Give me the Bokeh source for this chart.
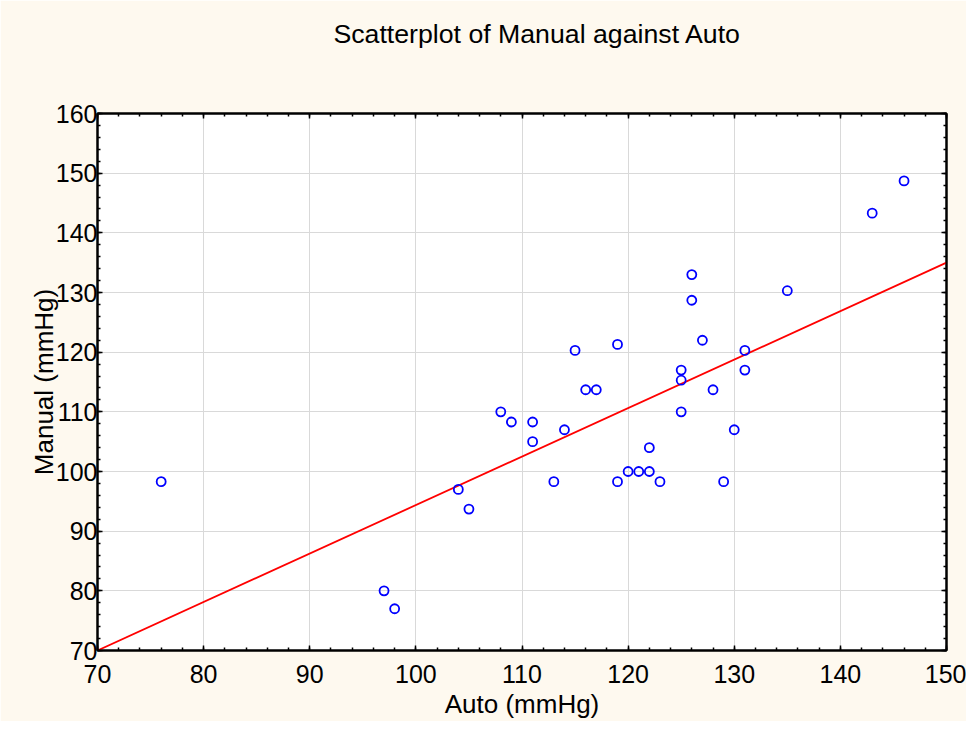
from bokeh.plotting import figure
from bokeh.models import (Range1d, LinearAxis, SingleIntervalTicker, FixedTicker,
                          CustomJSTickFormatter, ColumnDataSource)
from bokeh.embed import file_html
from bokeh.resources import INLINE

# ---- data ----
auto = [76, 97, 98, 104, 105, 108, 109, 111, 111, 113, 114, 115, 116, 117,
        119, 119, 120, 121, 122, 122, 123, 125, 125, 125, 126, 126, 127, 128,
        129, 130, 131, 131, 135, 143, 146]
manual = [98.3, 80, 77, 97, 93.7, 110, 108.3, 108.3, 105, 98.3, 107, 120.3,
          113.7, 113.7, 121.3, 98.3, 100, 100, 104, 100, 98.3, 117, 115.3,
          110, 133, 128.7, 122, 113.7, 98.3, 107, 120.3, 117, 130.3, 143.3,
          148.7]
fit_x = [70, 150]
fit_y = [70, 135]
title_text = "Scatterplot of Manual against Auto"
x_label = "Auto (mmHg)"
y_label = "Manual (mmHg)"

FONT = "Liberation Sans"
BG = "#FEF9EF"
TITLE_CENTER_X = 111.45  # horizontal anchor of the title, in x-axis units

p = figure(width=966, height=721, output_backend="svg", toolbar_location=None,
           x_range=Range1d(70, 150), y_range=Range1d(70, 160),
           x_axis_location=None, y_axis_location=None,
           min_border_left=97, min_border_right=20, min_border_top=113,
           min_border_bottom=68)
p.border_fill_color = BG
p.background_fill_color = "white"
p.outline_line_color = "black"
p.outline_line_width = 2

def make_axis(labels=True):
    ax = LinearAxis(ticker=SingleIntervalTicker(interval=10, num_minor_ticks=5))
    ax.axis_line_color = "black"
    ax.axis_line_width = 2
    ax.major_tick_in = 5
    ax.major_tick_out = 0
    ax.minor_tick_in = 3
    ax.minor_tick_out = 0
    ax.major_tick_line_color = "black"
    ax.major_tick_line_width = 1.5
    ax.minor_tick_line_color = "black"
    ax.minor_tick_line_width = 1.5
    ax.major_label_text_font = FONT
    ax.major_label_text_font_size = "25px"
    ax.major_label_text_color = "black"
    ax.axis_label_text_font = FONT
    ax.axis_label_text_font_size = "26px"
    ax.axis_label_text_font_style = "normal"
    ax.axis_label_text_color = "black"
    if not labels:
        ax.formatter = CustomJSTickFormatter(code="return ''")
        ax.major_label_standoff = 0
        ax.major_label_text_font_size = "1px"
    return ax

xb = make_axis()
xb.axis_label = x_label
xb.major_label_standoff = 14
xb.axis_label_standoff = 3
p.add_layout(xb, "below")

yl = make_axis()
yl.axis_label = y_label
yl.major_label_standoff = 0
yl.axis_label_standoff = -6
p.add_layout(yl, "left")

p.add_layout(make_axis(False), "above")
p.add_layout(make_axis(False), "right")

# title carried as the single (tick-less) label of an axis stacked above the frame
ta = LinearAxis(ticker=FixedTicker(ticks=[TITLE_CENTER_X], minor_ticks=[]),
                formatter=CustomJSTickFormatter(args=dict(t=title_text),
                                                code="return t"))
ta.axis_line_color = None
ta.major_tick_line_color = None
ta.minor_tick_line_color = None
ta.major_tick_in = 0
ta.major_tick_out = 0
ta.major_label_standoff = 65
ta.major_label_text_font = FONT
ta.major_label_text_font_size = "26.7px"
ta.major_label_text_font_style = "normal"
ta.major_label_text_color = "black"
p.add_layout(ta, "above")

p.xgrid.ticker = SingleIntervalTicker(interval=10)
p.ygrid.ticker = SingleIntervalTicker(interval=10)
p.grid.grid_line_color = "#D9D9D9"
p.grid.grid_line_width = 1

p.line(fit_x, fit_y, line_color="#FF0000", line_width=1.8)
src = ColumnDataSource(dict(x=auto, y=manual))
p.scatter("x", "y", source=src, marker="circle", size=9, fill_color=None,
          line_color="#0000FF", line_width=1.8)

open("out.html", "w").write(file_html(p, INLINE))
